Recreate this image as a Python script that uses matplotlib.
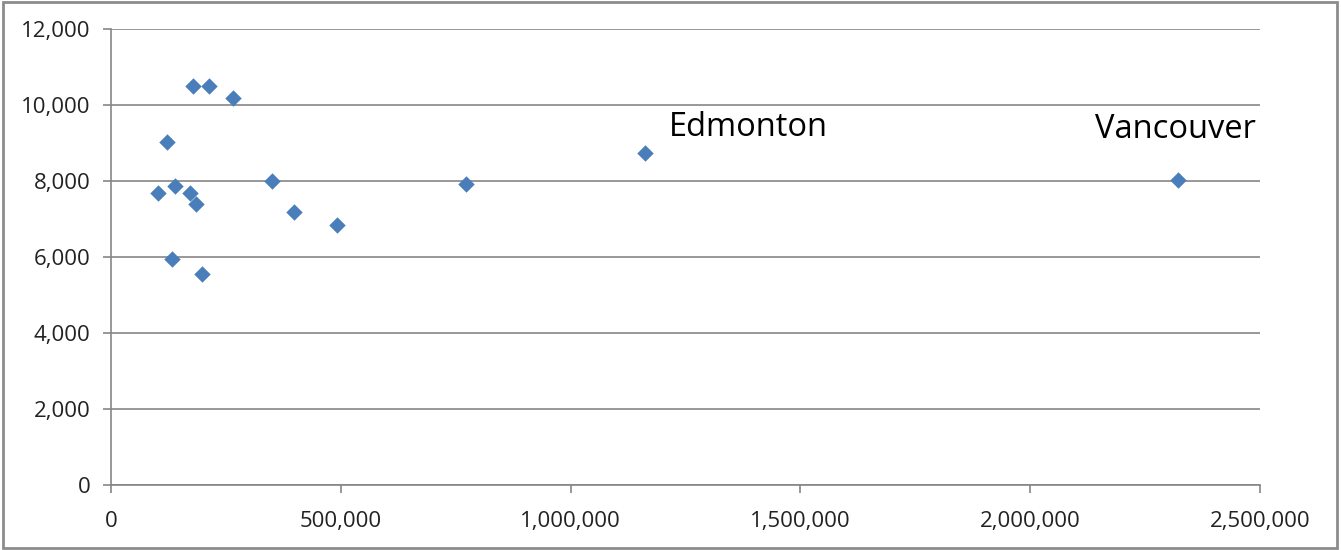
import matplotlib
matplotlib.use("Agg")
import matplotlib.pyplot as plt
from matplotlib.ticker import FuncFormatter, MultipleLocator
from matplotlib.patches import Rectangle

# population (x) vs value (y)
population = [102000, 122000, 139000, 133000, 172000, 178000, 185000, 198000,
              213000, 265000, 350000, 398000, 492000, 772000, 1162000, 2322000]
values = [7680, 9030, 7870, 5950, 7690, 10500, 7400, 5560,
          10500, 10180, 8000, 7180, 6850, 7930, 8740, 8030]
labels = {14: "Edmonton", 15: "Vancouver"}

plt.rcParams['font.family'] = ['Open Sans', 'DejaVu Sans']
fig = plt.figure(figsize=(13.41, 5.5), dpi=100)
ax = fig.add_axes([111 / 1341, 65 / 550, 1149 / 1341, 456 / 550])

grey = "#868686"
ax.scatter(population, values, marker="D", s=70, color="#4A7EBB", zorder=3,
           linewidths=0)

# city labels
ax.annotate(labels[14], (population[14], values[14]), xytext=(17, 18),
            textcoords="offset points", fontsize=23.5, va="center", ha="left")
ax.annotate(labels[15], (population[15], values[15]), xytext=(56, 36),
            textcoords="offset points", fontsize=23.5, va="center", ha="right")

ax.set_xlim(0, 2500000)
ax.set_ylim(0, 12000)
ax.xaxis.set_major_locator(MultipleLocator(500000))
ax.yaxis.set_major_locator(MultipleLocator(2000))
fmt = FuncFormatter(lambda v, p: f"{int(v):,}")
ax.xaxis.set_major_formatter(fmt)
ax.yaxis.set_major_formatter(fmt)

ax.grid(axis="y", color=grey, linewidth=1.2)
ax.set_axisbelow(True)
for side in ["top", "right"]:
    ax.spines[side].set_visible(False)
for side in ["left", "bottom"]:
    ax.spines[side].set_color(grey)
    ax.spines[side].set_linewidth(1.2)
ax.tick_params(axis="both", direction="out", length=6, color=grey,
               width=1.2, labelsize=16, labelcolor="#222222")
ax.tick_params(axis="y", pad=9)
ax.tick_params(axis="x", pad=13)

# outer chart border
fig.patches.append(Rectangle((0.002, 0.003), 0.995, 0.993, transform=fig.transFigure,
                             fill=False, edgecolor="#8c8c8c", linewidth=2))

fig.savefig("out.png", dpi=100)
